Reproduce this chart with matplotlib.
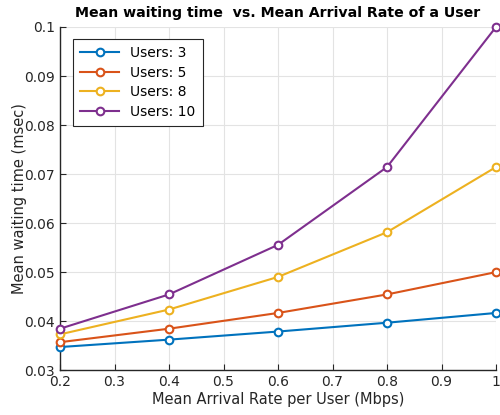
import matplotlib
matplotlib.use("Agg")
import matplotlib.pyplot as plt

# mean arrival rate per user (Mbps)
rate = [0.2, 0.4, 0.6, 0.8, 1.0]

# mean waiting time (msec) for each number of users
wait_3 = [0.03472, 0.03623, 0.03788, 0.03968, 0.04167]
wait_5 = [0.03571, 0.03846, 0.04167, 0.04545, 0.05000]
wait_8 = [0.03731, 0.04237, 0.04902, 0.05814, 0.07143]
wait_10 = [0.03846, 0.04545, 0.05556, 0.07143, 0.10000]

series = [("Users: 3", wait_3, "#0072BD"),
          ("Users: 5", wait_5, "#D95319"),
          ("Users: 8", wait_8, "#EDB120"),
          ("Users: 10", wait_10, "#7E2F8E")]

fig = plt.figure(figsize=(5, 4.15), dpi=100)
ax = fig.add_axes([0.12, 0.108, 0.872, 0.827])

for name, vals, col in series:
    ax.plot(rate, vals, color=col, lw=1.5, marker="o", ms=5.5,
            mfc="white", mew=1.5, label=name, clip_on=False, zorder=3)

ax.set_xlim(0.2, 1.0)
ax.set_ylim(0.03, 0.1)
ax.set_xticks([0.2, 0.3, 0.4, 0.5, 0.6, 0.7, 0.8, 0.9, 1.0])
ax.set_xticklabels(["0.2", "0.3", "0.4", "0.5", "0.6", "0.7", "0.8", "0.9", "1"])
ax.set_yticks([0.03, 0.04, 0.05, 0.06, 0.07, 0.08, 0.09, 0.1])
ax.set_yticklabels(["0.03", "0.04", "0.05", "0.06", "0.07", "0.08", "0.09", "0.1"])

ax.grid(True, color="#e3e3e3", lw=0.8)
ax.set_axisbelow(True)
for s in ["top", "right"]:
    ax.spines[s].set_visible(False)
for s in ["left", "bottom"]:
    ax.spines[s].set_color("#262626")
    ax.spines[s].set_linewidth(1.0)
ax.tick_params(direction="in", length=4, labelsize=10, colors="#262626")

ax.set_xlabel("Mean Arrival Rate per User (Mbps)", fontsize=10.5, color="#262626", labelpad=2)
ax.set_ylabel("Mean waiting time (msec)", fontsize=10.5, color="#262626", labelpad=-2)
ax.set_title("Mean waiting time  vs. Mean Arrival Rate of a User",
             fontsize=10.2, fontweight="bold", pad=7)

leg = ax.legend(loc="upper left", bbox_to_anchor=(0.015, 0.985), fontsize=10,
                handlelength=2.8, fancybox=False, edgecolor="#262626",
                framealpha=1, borderpad=0.5, labelspacing=0.4)
leg.get_frame().set_linewidth(0.8)

fig.savefig("out.png", dpi=100)
